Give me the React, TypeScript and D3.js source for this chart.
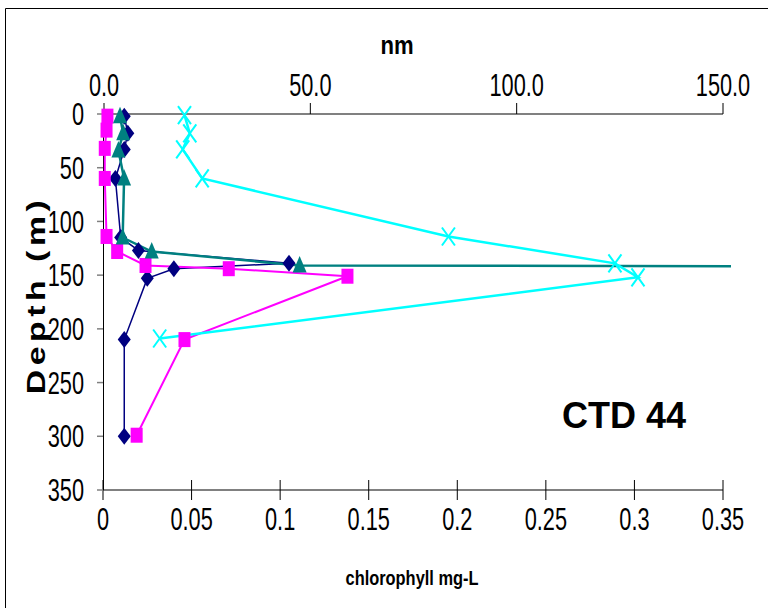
import React from "react";
import * as d3 from "d3";

// ---- data (chlorophyll mg-L vs depth m) ----
const navyChl = [0.012, 0.014, 0.012, 0.007, 0.010, 0.020, 0.105, 0.040, 0.025, 0.012, 0.012];
const navyDepth = [2, 18, 33, 60, 115, 127, 139, 144, 153, 210, 300];

const magentaChl = [0.0025, 0.002, 0.001, 0.001, 0.002, 0.008, 0.024, 0.071, 0.138, 0.046, 0.019];
const magentaDepth = [2, 15, 32, 60, 114, 128, 141, 144, 151, 210, 299];

const tealChl = [0.0096, 0.0114, 0.0087, 0.0119, 0.0111, 0.0275, 0.111, 0.6];
const tealDepth = [2, 18, 34, 60, 115, 128, 141, 142.5];

const cyanChl = [0.046, 0.049, 0.045, 0.056, 0.195, 0.289, 0.302, 0.032];
const cyanDepth = [1, 18, 33, 60, 114, 139, 152, 209];

const bottomTicks = [0, 0.05, 0.1, 0.15, 0.2, 0.25, 0.3, 0.35];
const bottomTickLabels = ["0", "0.05", "0.1", "0.15", "0.2", "0.25", "0.3", "0.35"];
const topTicks = [0, 50, 100, 150];
const topTickLabels = ["0.0", "50.0", "100.0", "150.0"];
const depthTicks = [0, 50, 100, 150, 200, 250, 300, 350];

const FONT = "'Liberation Sans', Arial, sans-serif";

type TP = {
  x: number; y: number; sx?: number; sy?: number; rot?: number;
  anchor?: "start" | "middle" | "end"; size: number; weight?: string | number;
  children: React.ReactNode; ls?: number;
};
function SText({ x, y, sx = 1, sy = 1, rot = 0, anchor = "middle", size, weight = "normal", children, ls = 0 }: TP) {
  return (
    <text
      transform={`translate(${x},${y}) rotate(${rot}) scale(${sx},${sy})`}
      textAnchor={anchor}
      dominantBaseline="central"
      fontSize={size}
      fontWeight={weight}
      fontFamily={FONT}
      letterSpacing={ls}
      fill="#000"
    >
      {children}
    </text>
  );
}

export default function App() {
  const x = d3.scaleLinear().domain([0, 0.35]).range([103, 723]);
  const xTop = d3.scaleLinear().domain([0, 150]).range([104, 723]);
  const y = d3.scaleLinear().domain([0, 350]).range([114, 490]);

  const line = d3
    .line<[number, number]>()
    .x((d) => x(d[0]))
    .y((d) => y(d[1]));

  const zip = (a: number[], b: number[]) => a.map((v, i) => [v, b[i]] as [number, number]);
  const navy = zip(navyChl, navyDepth);
  const magenta = zip(magentaChl, magentaDepth);
  const teal = zip(tealChl, tealDepth);
  const cyan = zip(cyanChl, cyanDepth);

  const labelSize = 32;
  const labelSx = 0.68;

  return (
    <svg width={768} height={608} style={{ position: "absolute", left: 0, top: 0 }}>
      <rect x={0} y={0} width={768} height={608} fill="#fff" />
      {/* frame */}
      <line x1={5.5} y1={8.5} x2={768} y2={8.5} stroke="#000" strokeWidth={1} />
      <line x1={5.5} y1={8.5} x2={5.5} y2={608} stroke="#000" strokeWidth={1} />

      <defs>
        <clipPath id="plot">
          <rect x={95} y={100} width={636} height={400} />
        </clipPath>
      </defs>

      {/* top axis (nm) */}
      <line x1={xTop(0)} y1={y(0)} x2={xTop(150)} y2={y(0)} stroke="#808080" strokeWidth={2} />
      {topTicks.map((t) => (
        <line key={"tt" + t} x1={xTop(t)} x2={xTop(t)} y1={y(0) - 11} y2={y(0)} stroke="#000" strokeWidth={1} />
      ))}
      {topTicks.map((t, i) => (
        <SText key={"tl" + t} x={xTop(t)} y={85} sx={labelSx} size={labelSize}>
          {topTickLabels[i]}
        </SText>
      ))}
      <SText x={397} y={45} sx={0.85} size={26} weight="bold">nm</SText>

      {/* bottom axis */}
      <line x1={x(0)} y1={y(350)} x2={x(0.35)} y2={y(350)} stroke="#808080" strokeWidth={2} />
      {bottomTicks.map((t) => (
        <line key={"bt" + t} x1={x(t)} x2={x(t)} y1={y(350) - 10} y2={y(350) + 10} stroke="#000" strokeWidth={1} />
      ))}
      {bottomTicks.map((t, i) => (
        <SText key={"bl" + t} x={x(t)} y={519} sx={labelSx} size={labelSize}>
          {bottomTickLabels[i]}
        </SText>
      ))}
      <SText x={412} y={578} sx={0.8} size={20.5} weight="bold">chlorophyll mg-L</SText>

      {/* left axis */}
      <line x1={103.5} y1={y(0)} x2={103.5} y2={y(350)} stroke="#000" strokeWidth={1} />
      {depthTicks.map((t) => (
        <line key={"lt" + t} x1={97} x2={103} y1={y(t)} y2={y(t)} stroke="#808080" strokeWidth={1.5} />
      ))}
      {depthTicks.map((t) => (
        <SText key={"ll" + t} x={84} y={y(t)} sx={labelSx} size={labelSize} anchor="end">
          {String(t)}
        </SText>
      ))}
      <SText x={36} y={295} rot={-90} sx={1.3} size={26} weight="bold" ls={3.5}>Depth (m)</SText>

      <SText x={624} y={415} sx={1.0} size={36} weight="bold">CTD 44</SText>

      {/* series */}
      <g clipPath="url(#plot)">
        <path d={line(navy) || ""} fill="none" stroke="#000080" strokeWidth={1.5} />
        <path d={line(magenta) || ""} fill="none" stroke="#FF00FF" strokeWidth={2} />
        <path d={line(teal) || ""} fill="none" stroke="#008080" strokeWidth={2.5} />
        <path d={line(cyan) || ""} fill="none" stroke="#00FFFF" strokeWidth={2.5} />

        {navy.map((d, i) => {
          const cx = x(d[0]), cy = y(d[1]);
          return (
            <path key={"n" + i} d={`M${cx},${cy - 8.5}L${cx + 6.5},${cy}L${cx},${cy + 8.5}L${cx - 6.5},${cy}Z`} fill="#000080" />
          );
        })}
        {magenta.map((d, i) => {
          const cx = x(d[0]), cy = y(d[1]);
          return <rect key={"m" + i} x={cx - 6} y={cy - 7.5} width={12} height={15} fill="#FF00FF" />;
        })}
        {teal.map((d, i) => {
          const cx = x(d[0]), cy = y(d[1]);
          return (
            <path key={"t" + i} d={`M${cx},${cy - 9.5}L${cx + 7},${cy + 7}L${cx - 7},${cy + 7}Z`} fill="#008080" />
          );
        })}
        {cyan.map((d, i) => {
          const cx = x(d[0]), cy = y(d[1]);
          return (
            <path
              key={"c" + i}
              d={`M${cx - 6.5},${cy - 9}L${cx + 6.5},${cy + 9}M${cx + 6.5},${cy - 9}L${cx - 6.5},${cy + 9}`}
              stroke="#00FFFF"
              strokeWidth={2}
              fill="none"
            />
          );
        })}
      </g>
    </svg>
  );
}
